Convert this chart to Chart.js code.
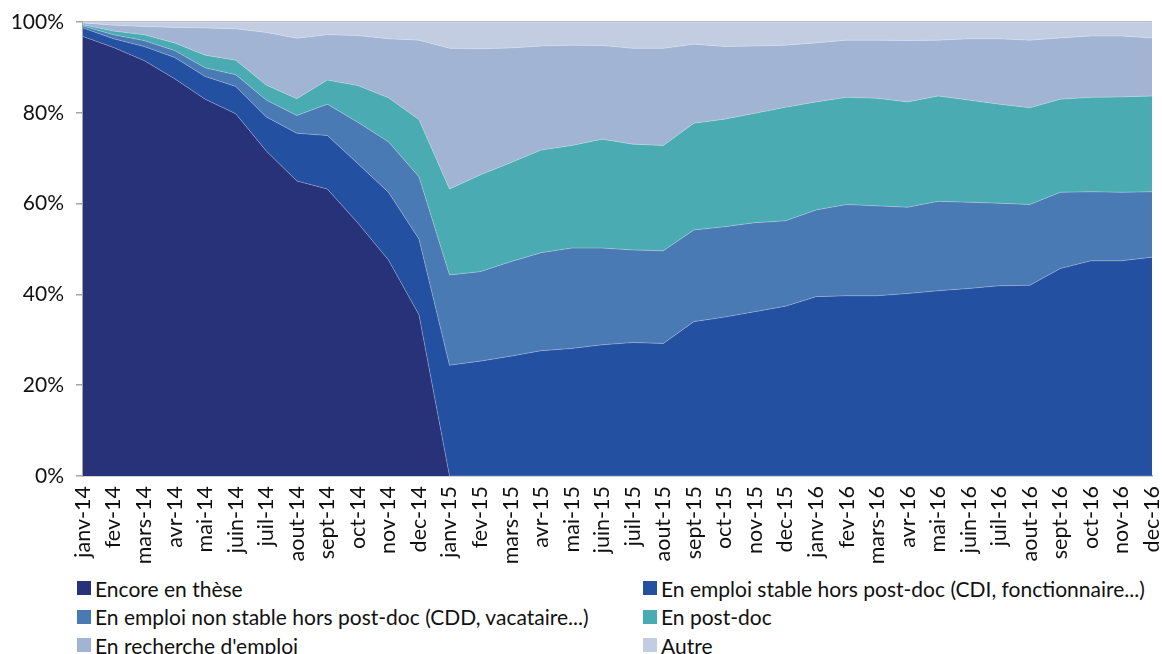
<!DOCTYPE html>
<html>
<head>
<meta charset="utf-8">
<script src="https://cdn.jsdelivr.net/npm/chart.js@4.4.1/dist/chart.umd.min.js"></script>
<style>
  html, body { margin: 0; padding: 0; background: #fff; }
  #wrap { position: relative; width: 1162px; height: 654px; overflow: hidden; }
  #box { position: absolute; left: 0; top: 0; width: 1162px; height: 572px; }
  #legend { position: absolute; left: 0; top: 575px; width: 1162px; font-family: Lato, "Noto Sans", sans-serif; font-size: 21px; color: #111; }
  .item { position: absolute; display: flex; align-items: center; white-space: nowrap; height: 26px; }
  .sw { width: 14px; height: 14px; margin-right: 4px; flex: none; }
</style>
</head>
<body>
<div id="wrap">
  <div id="box"><canvas id="c"></canvas></div>
  <div id="legend"></div>
</div>
<script>
const months = ['janv-14','fev-14','mars-14','avr-14','mai-14','juin-14','juil-14','aout-14','sept-14','oct-14','nov-14','dec-14',
  'janv-15','fev-15','mars-15','avr-15','mai-15','juin-15','juil-15','aout-15','sept-15','oct-15','nov-15','dec-15',
  'janv-16','fev-16','mars-16','avr-16','mai-16','juin-16','juil-16','aout-16','sept-16','oct-16','nov-16','dec-16'];

const seriesNames = ['Encore en thèse',
  'En emploi stable hors post-doc (CDI, fonctionnaire...)',
  'En emploi non stable hors post-doc (CDD, vacataire...)',
  'En post-doc',
  "En recherche d'emploi",
  'Autre'];

const encoreEnThese = [96.8,94.4,91.5,87.5,83.0,79.8,71.6,65.0,63.2,55.7,47.6,35.5,
  0,0,0,0,0,0,0,0,0,0,0,0, 0,0,0,0,0,0,0,0,0,0,0,0];
const emploiStable = [1.9,1.9,3.1,4.7,5.0,6.0,7.5,10.5,11.8,13.1,14.9,16.7,
  24.4,25.3,26.4,27.6,28.1,28.9,29.4,29.2,34.0,35.0,36.2,37.4,
  39.5,39.7,39.7,40.2,40.8,41.3,41.9,42.0,45.7,47.4,47.4,48.2];
const emploiNonStable = [0.4,0.9,1.3,1.5,1.9,2.6,3.7,3.9,6.9,9.1,11.1,13.7,
  19.9,19.7,20.8,21.6,22.1,21.3,20.4,20.4,20.2,19.9,19.6,18.8,
  19.1,20.1,19.8,19.0,19.7,19.0,18.2,17.8,16.8,15.2,15.1,14.4];
const postDoc = [0.3,0.8,1.3,1.7,2.8,3.2,3.3,3.7,5.3,8.1,9.7,12.6,
  18.9,21.3,21.8,22.6,22.6,24.0,23.3,23.2,23.5,23.7,24.1,25.0,
  23.8,23.6,23.7,23.2,23.2,22.5,21.8,21.3,20.5,20.8,21.0,21.1];
const rechercheEmploi = [0.4,1.3,1.8,3.4,6.0,6.9,11.6,13.3,10.0,11.0,13.0,17.5,
  31.0,27.8,25.3,22.9,22.1,20.6,21.1,21.4,17.4,16.0,14.8,13.7,
  13.0,12.6,12.8,13.5,12.3,13.5,14.4,14.9,13.5,13.5,13.4,12.8];
const autre = [0.2,0.7,1.0,1.2,1.3,1.5,2.3,3.6,2.8,3.0,3.7,4.0,
  5.8,5.9,5.7,5.3,5.1,5.2,5.8,5.8,4.9,5.4,5.3,5.1,
  4.6,4.0,4.0,4.1,4.0,3.7,3.7,4.0,3.5,3.1,3.1,3.5];

const yTicks = [0,20,40,60,80,100];
const colors = ['#283278','#2350A1','#4A7AB4','#4AACB2','#A1B4D4','#C3CDE2'];
const seriesData = [encoreEnThese, emploiStable, emploiNonStable, postDoc, rechercheEmploi, autre];

const FONT = 'Lato, "Noto Sans", sans-serif';

const datasets = seriesData.map((d, i) => ({
  label: seriesNames[i],
  data: d,
  backgroundColor: colors[i],
  borderColor: 'rgba(255,255,255,0.35)',
  borderWidth: 0.8,
  fill: i === 0 ? 'origin' : '-1',
  pointRadius: 0,
  tension: 0
}));

new Chart(document.getElementById('c'), {
  type: 'line',
  data: { labels: months, datasets },
  options: {
    responsive: true,
    maintainAspectRatio: false,
    animation: false,
    layout: { padding: { top: 22, right: 10, left: 0, bottom: 0 } },
    plugins: { legend: { display: false }, tooltip: { enabled: false } },
    scales: {
      x: {
        offset: false,
        grid: { display: true, drawOnChartArea: false, drawTicks: false },
        border: { display: true, color: '#a6a6a6', width: 1.5 },
        ticks: { color: '#111', font: { family: FONT, size: 21.5 }, minRotation: 90, maxRotation: 90, autoSkip: false, padding: 10 },
        afterFit: s => { s.height = 96; s.paddingLeft = 0; s.paddingRight = 0; }
      },
      y: {
        stacked: true,
        min: 0, max: 100,
        afterBuildTicks: s => { s.ticks = yTicks.map(v => ({ value: v })); },
        grid: {
          drawOnChartArea: true,
          color: c => (c.tick && c.tick.value === 100) ? '#bdbdbd' : 'rgba(0,0,0,0)',
          lineWidth: 1.5,
          tickLength: 7,
          tickColor: '#a6a6a6'
        },
        border: { display: true, color: '#a6a6a6', width: 1.5 },
        ticks: { color: '#111', font: { family: FONT, size: 21 }, padding: 12, callback: v => v + '%' },
        afterFit: s => { s.width = 83; s.paddingTop = 0; s.paddingBottom = 0; }
      }
    }
  }
});

// HTML legend in two columns
const leg = document.getElementById('legend');
const pos = [[77,0],[643,0],[77,28.5],[643,28.5],[77,57],[643,57]];
seriesNames.forEach((n, i) => {
  const it = document.createElement('div');
  it.className = 'item';
  it.style.left = pos[i][0] + 'px';
  it.style.top = pos[i][1] + 'px';
  const sw = document.createElement('span');
  sw.className = 'sw';
  sw.style.background = colors[i];
  const tx = document.createElement('span');
  tx.textContent = n;
  it.appendChild(sw); it.appendChild(tx);
  leg.appendChild(it);
});
</script>
</body>
</html>
